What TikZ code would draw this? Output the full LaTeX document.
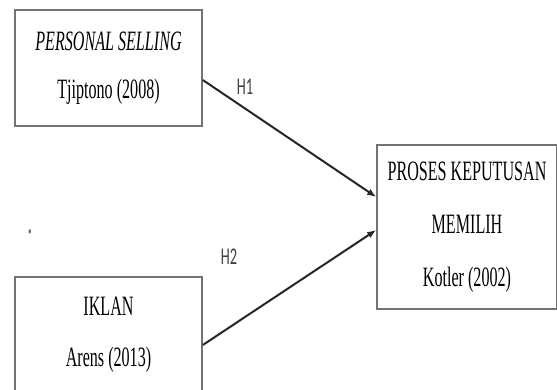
\documentclass[tikz,border=0pt]{standalone}
\usepackage{fontspec}
\setmainfont{Liberation Serif}[FakeStretch=0.575]
\newfontfamily\hfont{Carlito}[FakeStretch=0.6]
\usetikzlibrary{arrows.meta}
\tikzset{
  box/.style={draw=black!55,line width=1.6pt,align=center,inner sep=0pt},
  link/.style={draw=black!85,line width=2pt,-{Latex[length=9pt,width=7pt]}},
  hyp/.style={font=\hfont\fontsize{24}{24}\selectfont,text=black!75}
}

\begin{document}
\begin{tikzpicture}[x=1pt,y=-1pt]
\useasboundingbox (0,0) rectangle (557,389);
\node[box,minimum width=187pt,minimum height=116pt,font=\fontsize{28}{48}\selectfont] (ps) at (108.5,68) {\textit{PERSONAL SELLING}\\Tjiptono (2008)};
\node[box,minimum width=187pt,minimum height=115pt,font=\fontsize{28}{51}\selectfont] (iklan) at (108.5,334.5) {IKLAN\\Arens (2013)};
\node[box,minimum width=180pt,minimum height=164pt,font=\fontsize{28}{53}\selectfont] (pkm) at (467,227) {PROSES KEPUTUSAN\\MEMILIH\\Kotler (2002)};
\node[inner sep=0pt,text=black!60,font=\fontsize{36}{36}\selectfont] (dot) at (30,232) {.};
\draw[link] ([yshift=-12pt]ps.east) -- ([yshift=30pt]pkm.west);
\draw[link] ([yshift=-10.5pt]iklan.east) -- ([yshift=-3pt]pkm.west);
\foreach \n/\t/\p in {h1/H1/{(245,87)},h2/H2/{(229,257)}}{\node[hyp] (\n) at \p {\t};}
\end{tikzpicture}
\end{document}
